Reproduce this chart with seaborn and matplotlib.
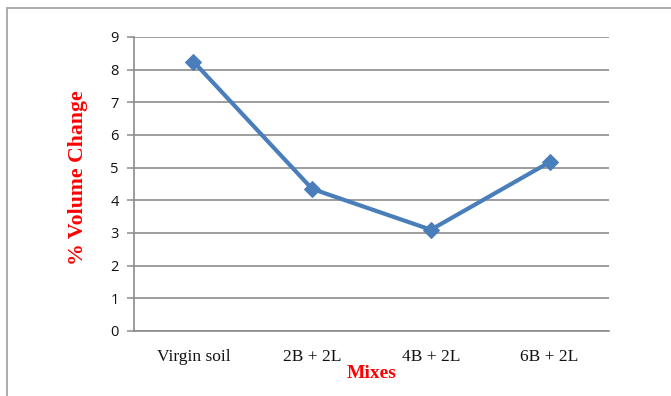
import matplotlib
matplotlib.use("Agg")
import matplotlib.pyplot as plt
from matplotlib.lines import Line2D
from matplotlib.ticker import FixedLocator, NullFormatter
import seaborn as sns
import pandas as pd

mixes = ["Virgin soil", "2B + 2L", "4B + 2L", "6B + 2L"]
volume_change = [8.25, 4.35, 3.1, 5.17]
y_ticks = [0, 1, 2, 3, 4, 5, 6, 7, 8, 9]

df = pd.DataFrame({"Mixes": mixes, "Change": volume_change})

sns.set_theme(style="white")
plt.rcParams["font.family"] = ["Liberation Serif", "DejaVu Sans"]

fig = plt.figure(figsize=(6.71, 3.96), dpi=100)
ax = fig.add_axes([134 / 671, 1 - 331 / 396, (609 - 134) / 671, (331 - 37) / 396])

grid_col = "#8c8c8c"
line_col = "#4a7ebb"

sns.lineplot(data=df, x="Mixes", y="Change", ax=ax, sort=False,
             color=line_col, linewidth=3.0, marker="D", markersize=8,
             markeredgecolor=line_col, markerfacecolor=line_col)

ax.set_xlim(-0.5, len(mixes) - 0.5)
ax.set_ylim(0, 9)
ax.set_yticks(y_ticks)
ax.set_yticklabels([str(t) for t in y_ticks], fontfamily="Open Sans", fontsize=10.5,
                   color="#111111")
ax.set_xticks(range(len(mixes)))
ax.set_xticklabels(mixes, fontsize=12.5, color="#111111")
ax.xaxis.set_minor_locator(FixedLocator([i - 0.5 for i in range(len(mixes) + 1)]))
ax.xaxis.set_minor_formatter(NullFormatter())
ax.tick_params(axis="x", which="major", length=0, pad=13)
ax.tick_params(axis="x", which="minor", length=5, width=1.1, color=grid_col, direction="out")
ax.tick_params(axis="y", length=5, width=1.1, color=grid_col, direction="out", pad=6, left=True)

ax.grid(axis="y", color=grid_col, linewidth=1.2)
ax.set_axisbelow(True)
for side in ["top", "right"]:
    ax.spines[side].set_visible(False)
for side in ["left", "bottom"]:
    ax.spines[side].set_color(grid_col)
    ax.spines[side].set_linewidth(1.2)

ax.set_xlabel("Mixes", fontsize=14, fontweight="bold", color="red", labelpad=0)
ax.set_ylabel("% Volume Change", fontsize=15.7, fontweight="bold", color="red")
ax.yaxis.set_label_coords(-(134 - 88) / 475, (331 - 178) / 294)

# outer chart frame (left and top edges)
frame_col = "#a6a6a6"
fig.add_artist(Line2D([7 / 671, 7 / 671], [0, 1 - 8 / 396], transform=fig.transFigure,
                      color=frame_col, linewidth=1.3))
fig.add_artist(Line2D([7 / 671, 1], [1 - 8 / 396, 1 - 8 / 396], transform=fig.transFigure,
                      color=frame_col, linewidth=1.3))

fig.savefig("out.png", dpi=100, facecolor="white")
